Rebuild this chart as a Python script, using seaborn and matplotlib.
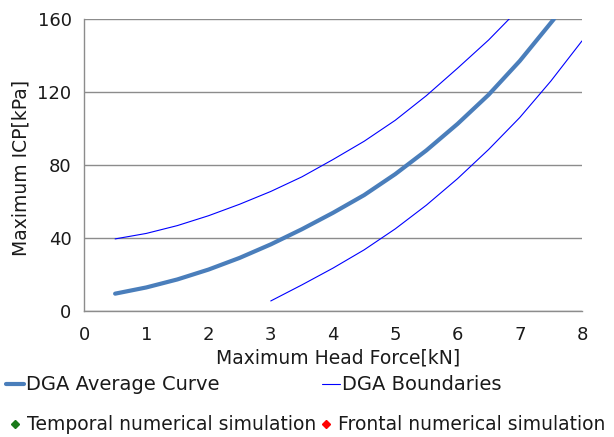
import numpy as np
import pandas as pd
import matplotlib
matplotlib.use("Agg")
import matplotlib.pyplot as plt
from matplotlib.lines import Line2D
import seaborn as sns

# ---- data ----
avg_x = [0.5, 1.0, 1.5, 2.0, 2.5, 3.0, 3.5, 4.0, 4.5, 5.0, 5.5, 6.0, 6.5, 7.0, 7.55]
avg_y = [9.5, 12.9, 17.3, 22.7, 29.1, 36.5, 44.8, 53.8, 63.5, 75.0, 88.0, 102.5, 118.5, 137.0, 160.0]

upper_x = [0.5, 1.0, 1.5, 2.0, 2.5, 3.0, 3.5, 4.0, 4.5, 5.0, 5.5, 6.0, 6.5, 6.83]
upper_y = [39.5, 42.5, 46.8, 52.2, 58.5, 65.5, 73.5, 83.0, 93.0, 104.5, 118.0, 133.0, 148.5, 160.0]

lower_x = [3.0, 3.5, 4.0, 4.5, 5.0, 5.5, 6.0, 6.5, 7.0, 7.5, 8.0]
lower_y = [5.5, 14.3, 23.5, 33.5, 45.0, 58.0, 72.5, 88.5, 106.0, 126.0, 148.0]

temporal_x, temporal_y = [], []
frontal_x, frontal_y = [], []

x_ticks = [0, 1, 2, 3, 4, 5, 6, 7, 8]
y_ticks = [0, 40, 80, 120, 160]

x_label = "Maximum Head Force[kN]"
y_label = "Maximum ICP[kPa]"

# ---- figure ----
sns.set_style("white")
plt.rcParams["font.family"] = ["DejaVu Sans"]
plt.rcParams["font.size"] = 12

fig = plt.figure(figsize=(6.14, 4.37), dpi=100)
ax = fig.add_axes([84 / 614, 1 - 311 / 437, (582 - 84) / 614, (311 - 19) / 437])

avg_col = "#4a7ebb"
bnd_col = "#0000ff"
grid_col = "#8c8c8c"
txt_col = "#1a1a1a"

sns.lineplot(x=avg_x, y=avg_y, ax=ax, color=avg_col, linewidth=3.0, sort=False,
             estimator=None)
sns.lineplot(x=upper_x, y=upper_y, ax=ax, color=bnd_col, linewidth=0.8, sort=False,
             estimator=None)
sns.lineplot(x=lower_x, y=lower_y, ax=ax, color=bnd_col, linewidth=0.8, sort=False,
             estimator=None)
if temporal_x:
    sns.scatterplot(x=temporal_x, y=temporal_y, ax=ax, color="#1a7a1a", marker="D")
if frontal_x:
    sns.scatterplot(x=frontal_x, y=frontal_y, ax=ax, color="#ff0000", marker="D")

ax.set_xlim(0, 8)
ax.set_ylim(0, 160)
ax.set_xticks(x_ticks)
ax.set_yticks(y_ticks)
ax.set_xticklabels([str(t) for t in x_ticks])
ax.set_yticklabels([str(t) for t in y_ticks])

ax.yaxis.grid(True, color=grid_col, linewidth=1.0)
ax.xaxis.grid(False)
ax.set_axisbelow(True)
for s in ["top", "right"]:
    ax.spines[s].set_visible(False)
for s in ["left", "bottom"]:
    ax.spines[s].set_color(grid_col)
    ax.spines[s].set_linewidth(1.0)

ax.tick_params(axis="both", which="both", direction="out", length=5, width=1,
               color=grid_col, labelsize=13, labelcolor=txt_col)
ax.tick_params(axis="x", pad=6)
ax.tick_params(axis="y", pad=4)

ax.set_xlabel(x_label, fontsize=13.5, color=txt_col)
ax.set_ylabel(y_label, fontsize=13.5, color=txt_col)
ax.xaxis.set_label_coords(0.51, -0.13)
ax.yaxis.set_label_coords(-0.108, 0.49)

# ---- legends ----
h1 = [Line2D([], [], color=avg_col, linewidth=3.0),
      Line2D([], [], color=bnd_col, linewidth=0.8)]
leg1 = fig.legend(h1, ["DGA Average Curve", "DGA Boundaries"], ncol=2,
                  loc="center left", bbox_to_anchor=(6 / 614, 1 - 385 / 437),
                  frameon=False, fontsize=14, handlelength=0.93, handletextpad=0.08,
                  columnspacing=5.3, borderpad=0, borderaxespad=0)
for t in leg1.get_texts():
    t.set_color(txt_col)

h2 = [Line2D([], [], color="#1a7a1a", marker="D", linestyle="none", markersize=4),
      Line2D([], [], color="#ff0000", marker="D", linestyle="none", markersize=4)]
leg2 = fig.legend(h2, ["Temporal numerical simulation", "Frontal numerical simulation"],
                  ncol=2, loc="center left", bbox_to_anchor=(6 / 614, 1 - 425 / 437),
                  frameon=False, fontsize=13.5, handlelength=0.93, handletextpad=0.18,
                  columnspacing=0.05, borderpad=0, borderaxespad=0)
for t in leg2.get_texts():
    t.set_color(txt_col)

fig.savefig("out.png", dpi=100)
